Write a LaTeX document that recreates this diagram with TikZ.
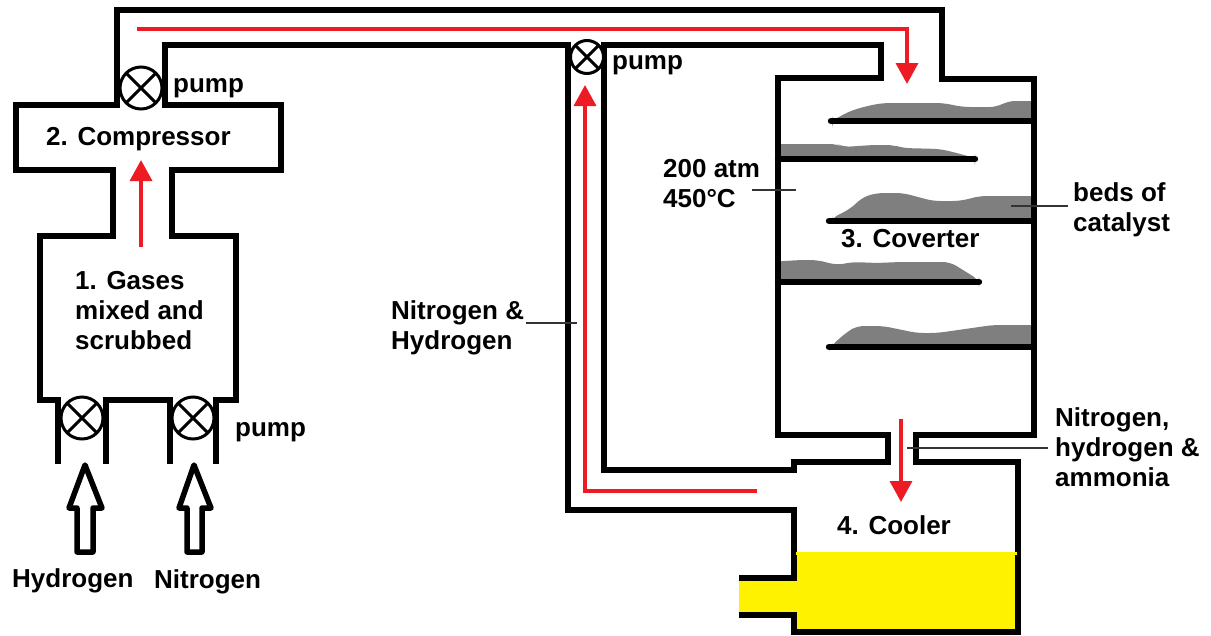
\documentclass[tikz,border=0pt]{standalone}
\usepackage{fontspec}
\setmainfont{Liberation Sans}
\usetikzlibrary{arrows.meta}
\definecolor{flowred}{HTML}{ED1C24}
\definecolor{liquid}{HTML}{FFF200}
\definecolor{catalyst}{HTML}{7F7F7F}
\tikzset{
  pipe/.style={draw=black,line width=6.4pt,miter limit=10},
  bar/.style={draw=black,line width=6.4pt,line cap=round},
  bed/.style={fill=catalyst,draw=none,rounded corners=7pt},
  flow/.style={draw=flowred,line width=3.5pt,-{Triangle[length=21pt,width=22pt,fill=flowred]}},
  inlet/.style={draw=black,line width=5.5pt,line join=round,fill=white},
  leader/.style={draw=black!80,line width=1.3pt},
  lbl/.style={font=\fontsize{26}{30}\selectfont\bfseries,inner sep=0pt,anchor=base west,text=black},
  mlbl/.style={lbl,align=left,anchor=north west},
  pumpbase/.style={circle,draw=black,line width=3pt,fill=white,inner sep=0pt,
    path picture={\draw[line width=3pt] (path picture bounding box.north west)--(path picture bounding box.south east)
      (path picture bounding box.north east)--(path picture bounding box.south west);}},
  pumpbig/.style={pumpbase,minimum size=42pt},
  pumpsmall/.style={pumpbase,minimum size=33pt},
}
\begin{document}
\begin{tikzpicture}[x=1pt,y=-1pt]
\useasboundingbox (0,0) rectangle (1211,635);
% liquid
\fill[liquid] (796,552)--(1017,552)--(1017,630)--(796,630)--(796,613)--(739,613)--(739,580)--(796,580)--cycle;
% catalyst beds
\fill[bed] (832,123)--(832,121)--(837,118)--(850,111)--(867,106)--(883,103)--(943,103)--(963,107)--(997,107)--(1008,101)--(1042,101)--(1042,123)--cycle;
\fill[bed] (770,161)--(770,144)--(837,144)--(843,147)--(873,145)--(893,145)--(903,148)--(940,149)--(953,152)--(975,158)--(975,161)--cycle;
\fill[bed] (830,223)--(832,218)--(850,209)--(863,197)--(877,193)--(903,193)--(933,201)--(960,201)--(980,196)--(1042,196)--(1042,223)--cycle;
\fill[bed] (770,284)--(770,262)--(800,260)--(817,260)--(837,265)--(853,262)--(877,263)--(900,262)--(950,262)--(963,270)--(979,280)--(979,284)--cycle;
\fill[bed] (830,349)--(832,345)--(847,332)--(857,326)--(883,326)--(917,333)--(937,333)--(993,325)--(1042,325)--(1042,349)--cycle;
\fill[white] (1037.2,95) rectangle (1050,355);
\fill[white] (760,140) rectangle (774.8,290);
% pipe walls
\draw[pipe] (739,578)--(794,578)--(794,510)--(568,510)--(568,45)--(165,45)--(165,105)--(281,105)--(281,170)--(172,170)--(172,236)--(236,236)--(236,400)--(216,400)--(216,464);
\draw[pipe] (170,464)--(170,400)--(106,400)--(106,464);
\draw[pipe] (58,464)--(58,400)--(40,400)--(40,236)--(113,236)--(113,170)--(16,170)--(16,105)--(117,105)--(117,10)--(942,10)--(942,79)--(1034,79)--(1034,435)--(916,435)--(916,462)--(1018,462)--(1018,632)--(794,632)--(794,615)--(739,615);
\draw[pipe] (604,45)--(881,45)--(881,78)--(778,78)--(778,435)--(888,435)--(888,462)--(794,462)--(794,470)--(604,470)--cycle;
\draw[liquid,line width=3pt] (796,553)--(1017,553);
% shelves
\draw[bar] (831,121)--(1033,121);
\draw[bar] (778,159)--(975,159);
\draw[bar] (829,221)--(1033,221);
\draw[bar] (778,282)--(979,282);
\draw[bar] (829,347)--(1033,347);
% pumps
\node[pumpbig] (pumpA) at (141,88) {};
\node[pumpbig] (pumpB) at (82,418) {};
\node[pumpbig] (pumpC) at (193,418) {};
\node[pumpsmall] (pumpD) at (587,57) {};
% inlet arrows
\draw[inlet] (85,465)--(102,508)--(93,508)--(93,552)--(77,552)--(77,508)--(69,508)--cycle;
\draw[inlet] (194,465)--(211,508)--(202,508)--(202,552)--(187,552)--(187,508)--(179,508)--cycle;
% red flows
\coordinate (f1a) at (141,247); \coordinate (f1b) at (141,160);
\draw[flow] (f1a)--(f1b);
\coordinate (f2a) at (137,29); \coordinate (f2m) at (907,29); \coordinate (f2b) at (907,84);
\draw[flow] (f2a)--(f2m)--(f2b);
\coordinate (f3a) at (757,491); \coordinate (f3m) at (585,491); \coordinate (f3b) at (585,85);
\draw[flow] (f3a)--(f3m)--(f3b);
\coordinate (f4a) at (901,419); \coordinate (f4b) at (901,502);
\draw[flow] (f4a)--(f4b);
% labels
\node[lbl] (lp1) at (173,92) {pump};
\node[lbl] (lp2) at (612,69) {pump};
\node[lbl] (lp3) at (235,436) {pump};
\node[lbl] (lcomp) at (46,145) {2. Compressor};
\node[mlbl] (lgas) at (75,271) {1. Gases\\mixed and\\scrubbed};
\node[lbl] (lh) at (12,587) {Hydrogen};
\node[lbl] (ln) at (154,588) {Nitrogen};
\node[mlbl] (lcond) at (663,159) {200 atm\\450°C};
\node[mlbl] (lnh) at (391,300) {Nitrogen \&\\Hydrogen};
\node[mlbl] (lbeds) at (1073,182) {beds of\\catalyst};
\node[lbl] (lconv) at (841,247) {3. Coverter};
\node[lbl] (lcool) at (837,534) {4. Cooler};
\node[mlbl] (lnha) at (1055,407) {Nitrogen,\\hydrogen \&\\ammonia};
% leaders
\coordinate (e1) at (796,190); \coordinate (e1s) at (752,190);
\draw[leader] (e1s)--(e1);
\coordinate (e2) at (1011,206); \coordinate (e2s) at (1068,206);
\draw[leader] (e2s)--(e2);
\coordinate (e3) at (577,323); \coordinate (e3s) at (526,323);
\draw[leader] (e3s)--(e3);
\coordinate (e4) at (907,448); \coordinate (e4s) at (1048,448);
\draw[leader] (e4s)--(e4);
\end{tikzpicture}
\end{document}
